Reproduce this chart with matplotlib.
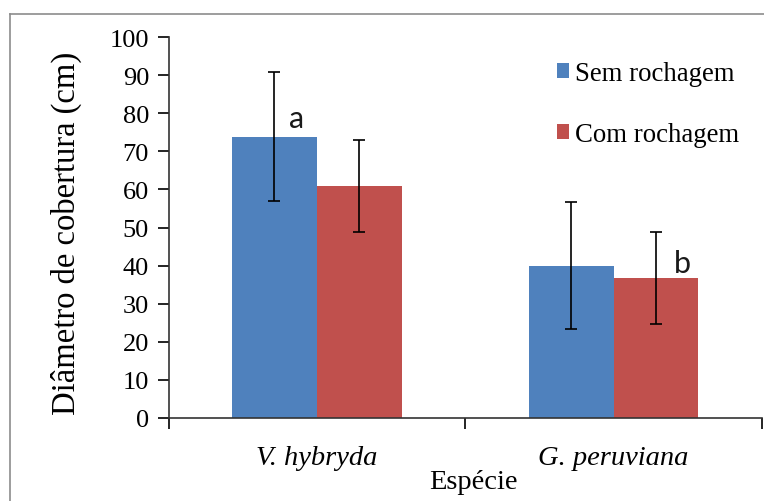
import matplotlib
matplotlib.use("Agg")
import matplotlib.pyplot as plt
from matplotlib.patches import Patch
from matplotlib.lines import Line2D
import numpy as np

categories = ["V. hybryda", "G. peruviana"]
series_names = ["Sem rochagem", "Com rochagem"]
sem_values = [73.9, 40.0]
sem_errors = [16.9, 16.6]
com_values = [61.0, 36.7]
com_errors = [12.1, 12.1]
letters = ["a", "b"]
letter_x = [-0.07, 1.23]
letter_y = [76.3, 38.2]
yticks = [0, 10, 20, 30, 40, 50, 60, 70, 80, 90, 100]

BLUE = "#4F81BD"
RED = "#C0504D"
SERIF = ["Liberation Serif", "DejaVu Serif"]

W, H = 764, 502
fig = plt.figure(figsize=(W / 100, H / 100), dpi=100)

# outer grey frame (top and left visible)
fig.add_artist(Line2D([9.5 / W, 9.5 / W], [0, 1 - 14.5 / H], color="#8c8c8c", lw=1.2,
                      transform=fig.transFigure))
fig.add_artist(Line2D([9.5 / W, 1], [1 - 14.5 / H, 1 - 14.5 / H], color="#8c8c8c", lw=1.2,
                      transform=fig.transFigure))

left, right = 168.5 / W, 762 / W
bottom, top = 1 - 418.7 / H, 1 - 38.3 / H
ax = fig.add_axes([left, bottom, right - left, top - bottom])

x = np.arange(len(categories))
bw = 0.286
ax.bar(x - bw / 2, sem_values, bw, color=BLUE, label=series_names[0], zorder=2)
ax.bar(x + bw / 2, com_values, bw, color=RED, label=series_names[1], zorder=2)
ax.errorbar(x - bw / 2, sem_values, yerr=sem_errors, fmt="none", ecolor="black",
            elinewidth=1.2, capsize=4.5, capthick=1.2, zorder=3)
ax.errorbar(x + bw / 2, com_values, yerr=com_errors, fmt="none", ecolor="black",
            elinewidth=1.2, capsize=4.5, capthick=1.2, zorder=3)

for lx, ly, t in zip(letter_x, letter_y, letters):
    ax.text(lx, ly, t, ha="center", va="baseline", fontsize=22,
            family=["Lato", "DejaVu Sans"], color="#1a1a1a")

ax.set_xlim(-0.5, len(categories) - 0.5)
ax.set_ylim(0, 100)
ax.set_yticks(yticks)
ax.set_yticklabels([str(v) for v in yticks], family=SERIF, fontsize=19)
ax.set_xticks(x)
ax.set_xticklabels(categories, family=SERIF, fontsize=20.5, style="italic")
ax.set_xticks(np.arange(-0.5, len(categories)), minor=True)
ax.tick_params(axis="x", which="major", length=0, pad=20)
ax.tick_params(axis="x", which="minor", length=8, width=1.2, direction="out")
ax.tick_params(axis="y", length=8, width=1.2, direction="out", pad=6)

for s in ["top", "right"]:
    ax.spines[s].set_visible(False)
for s in ["left", "bottom"]:
    ax.spines[s].set_linewidth(1.2)
    ax.spines[s].set_color("#333333")

fig.text(473.5 / W, 1 - 483 / H, "Espécie", ha="center", va="center",
         family=SERIF, fontsize=20.5)
fig.text(66.5 / W, 1 - 233 / H, "Diâmetro de cobertura (cm)", ha="center", va="center",
         rotation=90, family=SERIF, fontsize=23.5)

handles = [Patch(facecolor=BLUE), Patch(facecolor=RED)]
fig.legend(handles, series_names, loc="upper left",
           bbox_to_anchor=(557 / W, 1 - 62 / H), frameon=False,
           prop={"family": SERIF, "size": 19.3}, handlelength=0.45, handleheight=0.45,
           handletextpad=0.22, labelspacing=1.35, borderpad=0, borderaxespad=0)

fig.savefig("out.png", dpi=100)
